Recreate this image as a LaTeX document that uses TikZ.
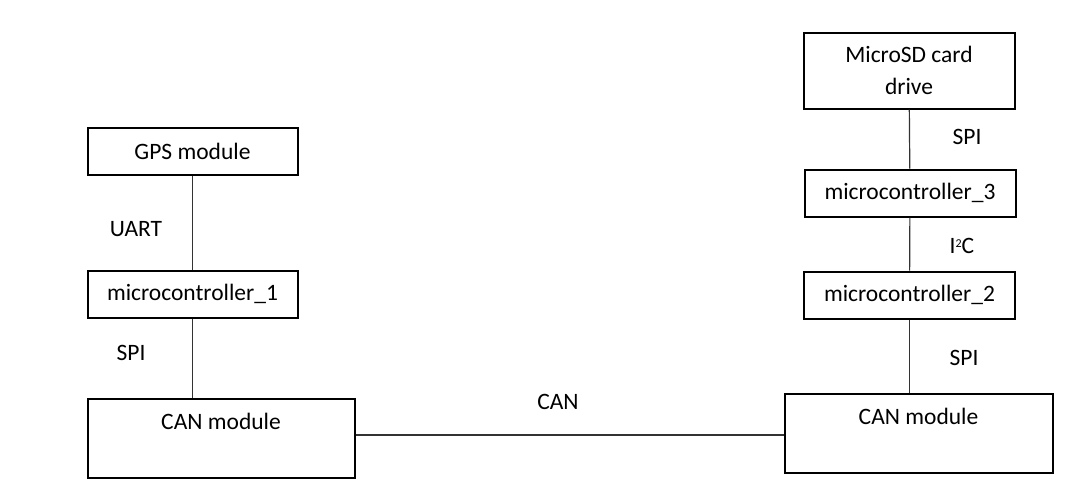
\documentclass[tikz,border=0pt]{standalone}
\usepackage{fontspec}
\setmainfont{Carlito}
\usetikzlibrary{calc}
\begin{document}
\begin{tikzpicture}[x=1pt,y=-1pt,
  box/.style={draw=black,line width=2pt,inner sep=0pt,font=\fontsize{23.5}{32}\selectfont,align=center},
  lbl/.style={inner sep=0pt,font=\fontsize{23.5}{27}\selectfont},
  conn/.style={draw=black!80,line width=1.2pt}]
\useasboundingbox[fill=white] (0,0) rectangle (1092,491);
% left column
\node[box,minimum width=210pt,minimum height=47pt] (gps) at (192.5,151.5) {GPS module};
\node[box,minimum width=210pt,minimum height=47pt] (mc1) at (192.5,294) {microcontroller\_1};
\node[box,minimum width=267pt,minimum height=79pt] (canL) at (221,438) {};
\node[lbl] (canLt) at ([yshift=-24pt]canL.north) {CAN module};
% right column
\node[box,minimum width=211pt,minimum height=76pt] (sd) at (909,70.5) {MicroSD card\\drive};
\node[box,minimum width=211pt,minimum height=47pt] (mc3) at (910,193) {microcontroller\_3};
\node[box,minimum width=211pt,minimum height=47pt] (mc2) at (909.5,295) {microcontroller\_2};
\node[box,minimum width=268pt,minimum height=79pt] (canR) at (918.5,433) {};
\node[lbl] (canRt) at ([yshift=-24pt]canR.north) {CAN module};
% connectors
\draw[conn] (gps) -- (mc1);
\draw[conn] (mc1.south) -- (mc1.south |- canL.north);
\draw[conn] (sd) -- (mc3);
\draw[conn] (mc3) -- (mc2);
\draw[conn] (mc2.south) -- (mc2.south |- canR.north);
\draw[conn] ([yshift=3pt]canL.east) -- ([yshift=3pt]canL.east -| canR.west);
% labels
\node[lbl] (l1) at (136,229) {UART};
\node[lbl] (l2) at (131,353) {SPI};
\node[lbl] (l3) at (558,402) {CAN};
\node[lbl] (l4) at (967,137) {SPI};
\node[lbl] (l5) at (962,246) {I\raisebox{0.55ex}{\fontsize{12}{12}\selectfont 2}C};
\node[lbl] (l6) at (964,358) {SPI};
\end{tikzpicture}
\end{document}
